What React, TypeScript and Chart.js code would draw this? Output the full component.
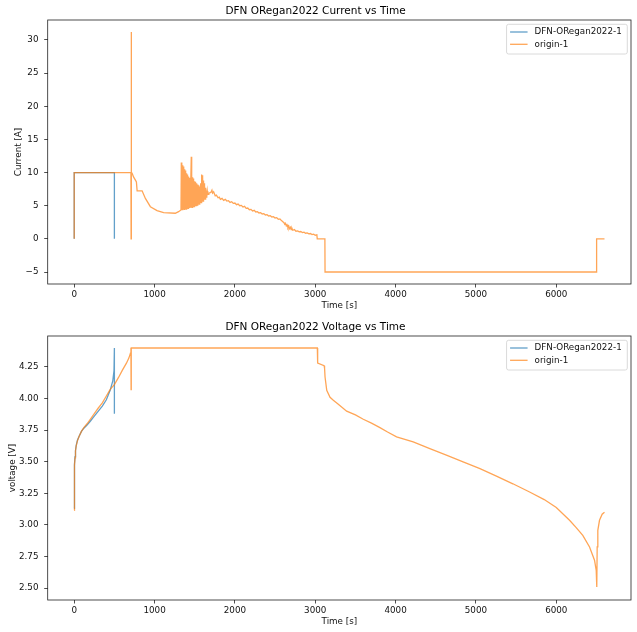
import React, { useEffect, useRef } from "react";
import { Chart, registerables } from "chart.js";

Chart.register(...registerables);

// ---------- tick values ----------
const xTicks = [0, 1000, 2000, 3000, 4000, 5000, 6000];
const currentTicks = [-5, 0, 5, 10, 15, 20, 25, 30];
const voltageTicks = [2.5, 2.75, 3.0, 3.25, 3.5, 3.75, 4.0, 4.25];

// ---------- series labels ----------
const seriesLabels = ["DFN-ORegan2022-1", "origin-1"];

// ---------- current: DFN ----------
const dfnCurrentT = [0, 0, 500, 500];
const dfnCurrentI = [0, 10, 10, 0];

// ---------- current: origin ----------
const originCurrentT = [
  0, 0, 706, 708, 710, 712, 720, 740, 760, 774, 783, 845, 886, 948, 1031, 1113, 1258, 1299, 1329,
  1333, 1337, 1341, 1345, 1349, 1353, 1357, 1361, 1365, 1369, 1373, 1377, 1381, 1385, 1389, 1393,
  1397, 1401, 1405, 1409, 1413, 1417, 1421, 1425, 1429, 1433, 1437, 1441, 1445, 1449, 1453, 1457,
  1460, 1464, 1468, 1472, 1476, 1480, 1484, 1488, 1492, 1496, 1500, 1504, 1508, 1512, 1516, 1520,
  1524, 1528, 1532, 1536, 1540, 1544, 1548, 1552, 1556, 1560, 1564, 1568, 1572, 1576, 1580, 1584,
  1588, 1592, 1596, 1600, 1604, 1608, 1612, 1616, 1620, 1624, 1628, 1632, 1636, 1640, 1644, 1648,
  1652, 1656, 1660, 1664, 1668, 1676,
  1700, 1714, 1722, 1735, 1755, 1770, 1790, 1805, 1820, 1840, 1860, 1880, 1900, 1920, 1940, 1960,
  1980, 2000, 2020, 2040, 2060, 2080, 2100, 2120, 2140, 2160, 2180, 2200, 2220, 2240, 2260, 2280,
  2300, 2320, 2340, 2360, 2380, 2400, 2420, 2440, 2460, 2480, 2500, 2520, 2540, 2560, 2580, 2600,
  2610, 2620, 2630, 2640, 2650, 2660, 2670, 2680, 2690, 2700, 2710, 2720, 2740, 2760, 2780, 2800,
  2820, 2840, 2860, 2880, 2900, 2920, 2940, 2960, 2980, 3000, 3020, 3025, 3120, 3122, 6500, 6502, 6600,
];
const originCurrentI = [
  0, 10, 10, 0, 31.2, 9.9, 9.9, 9.3, 8.9, 8.6, 7.25, 7.25, 6.1, 4.85, 4.25, 3.95, 3.86, 4.1, 4.35,
  11.5, 4.4, 11.3, 4.4, 11.1, 4.4, 10.9, 4.45, 10.7, 4.45, 10.5, 4.5, 10.3, 4.5, 10.1, 4.5,
  9.9, 4.55, 9.7, 4.55, 9.5, 4.6, 9.4, 4.6, 9.2, 4.65, 9.1, 4.65, 9.0, 4.7, 8.9, 12.4,
  4.7, 9.6, 4.75, 9.3, 4.8, 9.1, 4.8, 8.9, 4.85, 8.7, 4.9, 8.6, 4.95, 8.5, 5.0, 8.4,
  5.05, 8.3, 5.1, 8.2, 5.15, 8.1, 5.2, 8.0, 5.25, 7.9, 5.3, 7.8, 5.4, 8.4, 5.45, 9.7,
  5.5, 9.6, 5.6, 9.2, 5.7, 8.8, 5.8, 8.4, 5.9, 8.0, 6.0, 7.7, 6.15, 7.5, 6.3, 7.3,
  6.45, 7.2, 6.6, 7.0, 6.7, 6.9,
  7.0, 7.35, 6.9, 7.1, 6.5, 6.6, 6.2, 6.3, 5.95, 6.1, 5.8, 5.95, 5.7, 5.75, 5.5, 5.6,
  5.35, 5.4, 5.15, 5.25, 5.0, 5.05, 4.8, 4.9, 4.6, 4.65, 4.4, 4.45, 4.2, 4.3, 4.05, 4.1,
  3.9, 3.95, 3.75, 3.8, 3.6, 3.65, 3.45, 3.5, 3.3, 3.35, 3.15, 3.2, 2.95, 3.0, 2.75, 2.55,
  2.45, 2.2, 2.35, 1.95, 2.1, 1.7, 1.95, 1.55, 1.75, 1.4, 1.6, 1.3, 1.4, 1.15, 1.2, 1.05,
  1.1, 0.95, 1.0, 0.85, 0.9, 0.75, 0.8, 0.65, 0.7, 0.55, 0.6, 0.0, 0.0, -5, -5, 0, 0,
];

// ---------- voltage: DFN ----------
const dfnVoltageT = [0, 1, 3, 6, 10, 16, 25, 40, 60, 90, 120, 160, 200, 250, 300, 350, 400, 450, 480, 495, 500, 500];
const dfnVoltageV = [3.13, 3.26, 3.4, 3.48, 3.54, 3.59, 3.63, 3.67, 3.7, 3.74, 3.765, 3.79, 3.82, 3.86, 3.9, 3.94, 3.99, 4.07, 4.14, 4.22, 4.4, 3.88];

// ---------- voltage: origin ----------
const originVoltageT = [
  0, 1, 3, 6, 10, 16, 25, 40, 60, 90, 120, 160, 200, 250, 300, 350, 400, 450, 500, 550, 600, 650, 680, 700,
  706, 708, 710, 3026, 3030, 3110, 3116, 3122, 3143, 3184, 3225, 3287, 3391, 3500, 3598, 3700, 3805,
  3900, 4012, 4219, 4426, 4640, 4840, 5050, 5255, 5460, 5668, 5850, 6000, 6165, 6248, 6330, 6414,
  6476, 6497, 6504, 6509, 6517, 6538, 6571, 6600,
];
const originVoltageV = [
  3.115, 3.24, 3.38, 3.47, 3.53, 3.585, 3.625, 3.665, 3.7, 3.74, 3.77, 3.8, 3.835, 3.88, 3.925, 3.965, 4.02, 4.075, 4.11, 4.165, 4.225, 4.28, 4.32, 4.36,
  4.4, 4.07, 4.4, 4.4, 4.28, 4.26, 4.24, 4.17, 4.065, 4.01, 3.986, 3.955, 3.9, 3.87, 3.836, 3.805, 3.77,
  3.735, 3.696, 3.656, 3.604, 3.55, 3.498, 3.445, 3.385, 3.325, 3.26, 3.2, 3.137, 3.036, 2.978, 2.917, 2.825,
  2.72, 2.64, 2.508, 2.825, 2.957, 3.036, 3.084, 3.1,
];

// ---------- styling ----------
const BLUE = "rgba(31,119,180,0.7)";
const ORANGE = "rgba(255,127,14,0.7)";
const FONT = '"DejaVu Sans", sans-serif';
const TEXT = "#111";

const toPoints = (ts: number[], vs: number[]) => ts.map((t, i) => ({ x: t, y: vs[i] }));

const fmtInt = (v: number) => (v < 0 ? "\u2212" + Math.abs(v) : String(v));
const fmt2 = (v: number) => (v < 0 ? "\u2212" : "") + Math.abs(v).toFixed(2);

const framePlugin = {
  id: "frame",
  afterDraw(chart: any) {
    const { ctx, chartArea } = chart;
    ctx.save();
    ctx.strokeStyle = "#222";
    ctx.lineWidth = 0.8;
    ctx.strokeRect(chartArea.left, chartArea.top, chartArea.right - chartArea.left, chartArea.bottom - chartArea.top);

    // legend
    const colors = [BLUE, ORANGE];
    ctx.font = `8.75px ${FONT}`;
    const textW = Math.max(...seriesLabels.map((l) => ctx.measureText(l).width));
    const right = chartArea.right - 3.7;
    const top = chartArea.top + 4.3;
    const w = textW + 33.6;
    const h = 29.7;
    const left = right - w;
    ctx.beginPath();
    (ctx as any).roundRect(left, top, w, h, 2);
    ctx.fillStyle = "rgba(255,255,255,0.8)";
    ctx.fill();
    ctx.strokeStyle = "#d0d0d0";
    ctx.lineWidth = 0.8;
    ctx.stroke();
    seriesLabels.forEach((label, i) => {
      const y = top + 7.7 + i * 12.3;
      ctx.beginPath();
      ctx.strokeStyle = colors[i];
      ctx.lineWidth = 1.3;
      ctx.moveTo(left + 3.5, y);
      ctx.lineTo(left + 21, y);
      ctx.stroke();
      ctx.fillStyle = TEXT;
      ctx.textAlign = "left";
      ctx.textBaseline = "middle";
      ctx.fillText(label, left + 28, y);
    });
    ctx.restore();
  },
};

function makeConfig(
  title: string,
  yLabel: string,
  yMin: number,
  yMax: number,
  yTickVals: number[],
  yFmt: (v: number) => string,
  yTitlePad: number,
  blue: { x: number; y: number }[],
  orange: { x: number; y: number }[]
): any {
  return {
    type: "line",
    data: {
      datasets: [
        { label: seriesLabels[0], data: blue, borderColor: BLUE, borderWidth: 1.3, pointRadius: 0, tension: 0, fill: false, order: 1 },
        { label: seriesLabels[1], data: orange, borderColor: ORANGE, borderWidth: 1.3, pointRadius: 0, tension: 0, fill: false, order: 0 },
      ],
    },
    options: {
      animation: false,
      responsive: false,
      events: [],
      layout: { padding: { left: 0, right: 6, top: 0, bottom: 0 } },
      plugins: {
        legend: { display: false },
        tooltip: { enabled: false },
        title: {
          display: true,
          text: title,
          color: "#000",
          font: { family: FONT, size: 10.5, weight: "normal" },
          padding: { top: 4.5, bottom: 2.9 },
        },
      },
      scales: {
        x: {
          type: "linear",
          min: -330,
          max: 6930,
          afterBuildTicks: (s: any) => {
            s.ticks = xTicks.map((v) => ({ value: v }));
          },
          afterFit: (s: any) => {
            s.height = 32;
          },
          grid: { display: true, drawOnChartArea: false, drawTicks: true, tickLength: 3.5, tickColor: "#222", tickWidth: 0.8 },
          border: { display: false },
          ticks: {
            color: TEXT,
            font: { family: FONT, size: 8.75 },
            padding: 2,
            autoSkip: false,
            maxRotation: 0,
            callback: (v: any) => fmtInt(Number(v)),
          },
          title: {
            display: true,
            text: "Time [s]",
            color: TEXT,
            font: { family: FONT, size: 8.75 },
            padding: { top: 0, bottom: 4.75 },
          },
        },
        y: {
          type: "linear",
          min: yMin,
          max: yMax,
          afterBuildTicks: (s: any) => {
            s.ticks = yTickVals.map((v) => ({ value: v }));
          },
          afterFit: (s: any) => {
            s.width = 47.7;
          },
          grid: { display: true, drawOnChartArea: false, drawTicks: true, tickLength: 3.5, tickColor: "#222", tickWidth: 0.8 },
          border: { display: false },
          ticks: {
            color: TEXT,
            font: { family: FONT, size: 8.75 },
            padding: 5.7,
            autoSkip: false,
            callback: (v: any) => yFmt(Number(v)),
          },
          title: {
            display: true,
            text: yLabel,
            color: TEXT,
            font: { family: FONT, size: 8.75 },
            padding: { top: yTitlePad, bottom: 0 },
          },
        },
      },
    },
    plugins: [framePlugin],
  };
}

function Panel({ build }: { build: () => any }) {
  const ref = useRef<HTMLCanvasElement | null>(null);
  useEffect(() => {
    const chart = new Chart(ref.current as HTMLCanvasElement, build());
    return () => chart.destroy();
  }, []);
  return <canvas ref={ref} width={637} height={316} style={{ display: "block", width: 637, height: 316 }} />;
}

export default function App() {
  return (
    <div style={{ position: "fixed", left: 0, top: 0, width: 637, height: 632, background: "#fff" }}>
      <Panel
        build={() =>
          makeConfig(
            "DFN ORegan2022 Current vs Time",
            "Current [A]",
            -6.81,
            33.01,
            currentTicks,
            fmtInt,
            13,
            toPoints(dfnCurrentT, dfnCurrentI),
            toPoints(originCurrentT, originCurrentI)
          )
        }
      />
      <Panel
        build={() =>
          makeConfig(
            "DFN ORegan2022 Voltage vs Time",
            "voltage [V]",
            2.405,
            4.495,
            voltageTicks,
            fmt2,
            7,
            toPoints(dfnVoltageT, dfnVoltageV),
            toPoints(originVoltageT, originVoltageV)
          )
        }
      />
    </div>
  );
}
